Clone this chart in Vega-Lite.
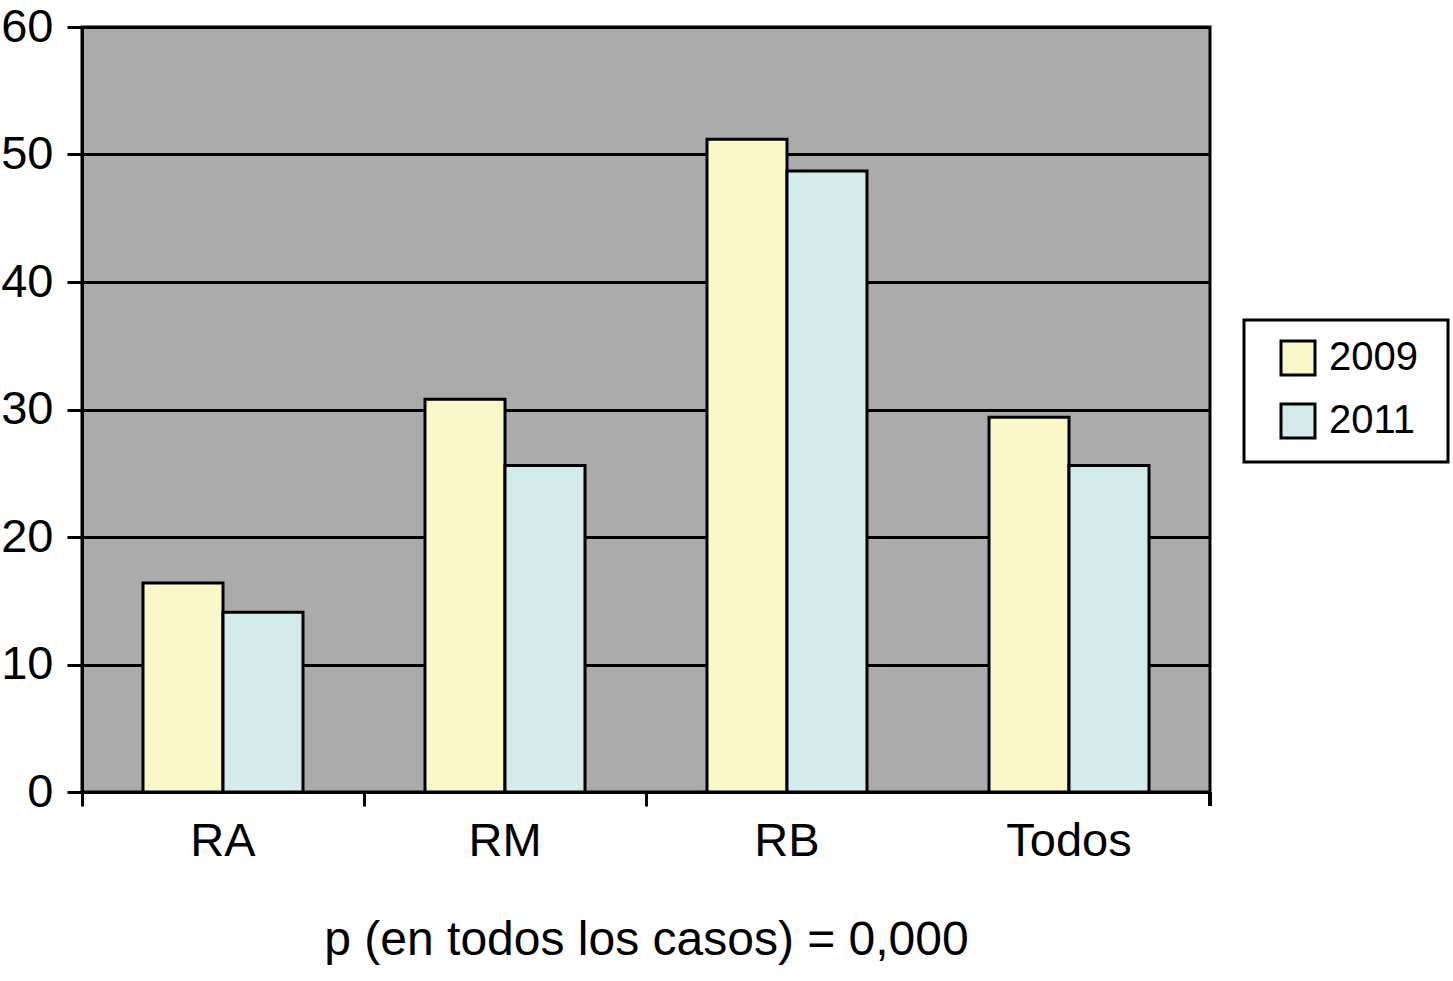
{
  "$schema": "https://vega.github.io/schema/vega-lite/v6.json",
  "width": 1128,
  "height": 765,
  "autosize": {"type": "none"},
  "padding": {"left": 82, "top": 27, "right": 243, "bottom": 189},
  "background": "white",
  "config": {
    "font": "Liberation Sans",
    "view": {"fill": "#ababab", "stroke": "black", "strokeWidth": 3}
  },
  "data": {
    "values": [
      {"grupo": "RA", "anio": "2009", "valor": 16.4},
      {"grupo": "RA", "anio": "2011", "valor": 14.1},
      {"grupo": "RM", "anio": "2009", "valor": 30.8},
      {"grupo": "RM", "anio": "2011", "valor": 25.6},
      {"grupo": "RB", "anio": "2009", "valor": 51.2},
      {"grupo": "RB", "anio": "2011", "valor": 48.7},
      {"grupo": "Todos", "anio": "2009", "valor": 29.4},
      {"grupo": "Todos", "anio": "2011", "valor": 25.6}
    ]
  },
  "layer": [
    {
      "mark": {"type": "bar", "stroke": "black", "strokeWidth": 3, "cornerRadius": 0},
      "encoding": {
        "x": {
          "field": "grupo",
          "type": "nominal",
          "sort": ["RA", "RM", "RB", "Todos"],
          "scale": {"paddingInner": 0, "paddingOuter": 0},
          "axis": {
            "title": "p (en todos los casos) = 0,000",
            "titleFontSize": 48,
            "titleFontWeight": "normal",
            "titleColor": "black",
            "titlePadding": 52,
            "labelFontSize": 47,
            "labelColor": "black",
            "labelAngle": 0,
            "labelPadding": 12,
            "bandPosition": 0,
            "tickSize": 14,
            "tickWidth": 3,
            "tickColor": {"condition": {"test": "datum.value === 'Todos'", "value": "transparent"}, "value": "black"},
            "domainColor": "black",
            "domainWidth": 3,
            "grid": false
          }
        },
        "xOffset": {
          "field": "anio",
          "type": "nominal",
          "scale": {"paddingInner": 0, "paddingOuter": 0.7625}
        },
        "y": {
          "field": "valor",
          "type": "quantitative",
          "scale": {"domain": [0, 60], "nice": false},
          "axis": {
            "title": null,
            "values": [0, 10, 20, 30, 40, 50, 60],
            "labelFontSize": 47,
            "labelColor": "black",
            "labelPadding": 14,
            "tickSize": 15,
            "tickWidth": 3,
            "tickColor": "black",
            "domainColor": "black",
            "domainWidth": 3,
            "grid": true,
            "gridColor": "black",
            "gridWidth": 3,
            "gridOpacity": 1,
            "zindex": 0
          }
        },
        "color": {
          "field": "anio",
          "type": "nominal",
          "scale": {"domain": ["2009", "2011"], "range": ["#faf7c8", "#d4ebeb"]},
          "legend": {
            "title": " ",
            "titleOrient": "right",
            "titlePadding": 12,
            "titleFontSize": 2,
            "orient": "none",
            "legendX": 1162,
            "legendY": 293,
            "padding": 18,
            "strokeColor": "black",
            "fillColor": "white",
            "symbolType": "square",
            "symbolSize": 1156,
            "symbolStrokeColor": "black",
            "symbolStrokeWidth": 3,
            "symbolOffset": 16,
            "symbolOpacity": 1,
            "labelFontSize": 40,
            "labelColor": "black",
            "labelOffset": 11,
            "rowPadding": 17,
            "encode": {"legend": {"update": {"strokeWidth": {"value": 3}}}}
          }
        }
      }
    },
    {
      "mark": {"type": "rule", "color": "black", "strokeWidth": 3},
      "encoding": {
        "x": {"datum": "Todos", "type": "nominal", "bandPosition": 1},
        "y": {"datum": 0, "type": "quantitative"},
        "y2": {"datum": -1.1}
      }
    }
  ]
}
